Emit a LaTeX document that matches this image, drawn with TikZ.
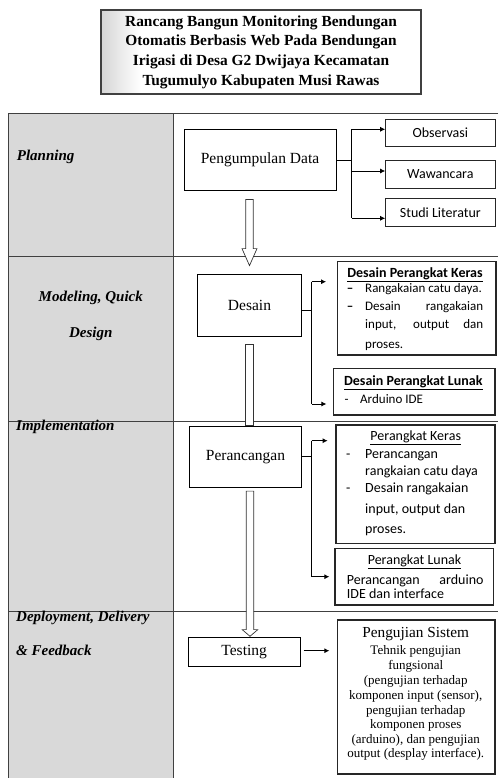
\documentclass[tikz,border=0pt]{standalone}
\usepackage{fontspec}
\setmainfont{Liberation Serif}
\newfontfamily\calfont{Carlito}
\usetikzlibrary{arrows.meta,calc}
\definecolor{lanegray}{HTML}{D9D9D9}
\newcommand\harrow[4]{%
  \draw[hollow] ($(#1)+(-3.7,0)$) -- ($(#1)+(3.7,0)$) -- ($(#2)+(3.7,-#3)$) -- ($(#2)+(#4,-#3)$) -- (#2) -- ($(#2)+(-#4,-#3)$) -- ($(#2)+(-3.7,-#3)$) -- cycle;}
\begin{document}
\begin{tikzpicture}[x=1pt,y=-1pt,
  tl/.style={draw=black!75, line width=1pt},
  lbl/.style={font=\fontsize{15}{18}\selectfont\bfseries\itshape, anchor=mid west, inner sep=0pt},
  stage/.style={draw=black, line width=0.8pt, fill=white, inner sep=0pt, font=\fontsize{15.5}{18}\selectfont},
  sbox/.style={draw=black!85, line width=1pt, fill=white, inner sep=0pt, font=\calfont\fontsize{14}{16}\selectfont},
  tbox/.style={draw=black!85, line width=1.3pt, fill=white, inner sep=0pt},
  hollow/.style={draw=black!80, line width=0.7pt, fill=white},
  conn/.style={draw=black, line width=0.8pt},
  arr/.style={conn, -{Latex[length=5pt,width=5pt]}},
  ttl/.style={font=\calfont\bfseries\fontsize{14}{16}\selectfont, inner sep=0pt, anchor=mid},
  tul/.style={font=\calfont\fontsize{14}{16}\selectfont, inner sep=0pt, anchor=mid},
  tsm/.style={font=\calfont\fontsize{13}{15}\selectfont, inner sep=0pt, anchor=mid west},
  tmd/.style={font=\calfont\fontsize{14}{16}\selectfont, inner sep=0pt, anchor=mid west},
  pst/.style={font=\fontsize{13}{15}\selectfont, inner sep=0pt, anchor=mid},
]
\useasboundingbox (0,0) rectangle (498,778);
% title
\shade[left color=black!16, right color=white] (101,10) rectangle (141,94);
\node[draw=black!75, line width=1.2pt, minimum width=320pt, minimum height=84pt, inner sep=0pt, align=center,
  font=\fontsize{15.4}{19.7}\selectfont\bfseries]
  (title) at (261,52) {Rancang Bangun Monitoring Bendungan\\Otomatis Berbasis Web Pada Bendungan\\Irigasi di Desa G2 Dwijaya Kecamatan\\Tugumulyo Kabupaten Musi Rawas};
% table
\fill[lanegray] (8,114) rectangle (173,778);
\draw[tl] (498,114) -- (8,114) -- (8,778);
\draw[tl] (173,114) -- (173,778);
\foreach \yy in {256,421,611} {\draw[tl] (8,\yy) -- (498,\yy);}
% lane labels
\node[lbl] (lplan) at (16.7,158.3) {Planning};
\node[lbl, anchor=mid] (lmod1) at (90.8,299.3) {Modeling, Quick};
\node[lbl, anchor=mid] (lmod2) at (90.8,335) {Design};
\node[lbl] (limp) at (16,428.3) {Implementation};
\node[lbl] (ldep1) at (16,619.3) {Deployment, Delivery};
\node[lbl] (ldep2) at (16,653.3) {\& Feedback};
% boxes
\node[stage, minimum width=152pt, minimum height=61.4pt] (pd) at (260,160) {Pengumpulan Data};
\node[sbox, minimum width=109.3pt, minimum height=27.4pt] (obs) at (440.35,133) {Observasi};
\node[sbox, minimum width=109.3pt, minimum height=27.6pt] (waw) at (440.35,174.5) {Wawancara};
\node[sbox, minimum width=109.3pt, minimum height=28.4pt] (stu) at (440.35,212.5) {Studi Literatur};
\node[stage, minimum width=104.4pt, minimum height=61.5pt] (des) at (249.5,305.25) {Desain};
\node[tbox, minimum width=158.7pt, minimum height=93.3pt] (dpk) at (416.65,308.35) {};
\node[tbox, minimum width=161.7pt, minimum height=46.7pt] (dpl) at (414.15,391.65) {};
\node[stage, minimum width=112.4pt, minimum height=61.3pt] (per) at (245.5,456.65) {Perancangan};
\node[tbox, minimum width=159pt, minimum height=118.3pt] (pk) at (415.5,484.15) {};
\node[tbox, minimum width=158.3pt, minimum height=56.7pt] (pl) at (414.15,576.65) {};
\node[stage, minimum width=111.7pt, minimum height=29pt] (test) at (244.15,652.2) {Testing};
\node[tbox, minimum width=157.7pt, minimum height=154pt] (ps) at (416.15,697) {};
% hollow arrows
\coordinate (a1s) at ($(des.north |- pd.south)+(0,8.3)$);
\coordinate (a1e) at ($(des.north)+(0,-8.5)$);
\harrow{a1s}{a1e}{17}{7.5}
\draw[hollow] ($(des.south)+(-3.7,8)$) rectangle ($(des.south |- per.north)+(3.7,0)$);
\coordinate (a3s) at ($(des.south |- per.south)+(0.5,3.4)$);
\coordinate (a3e) at ($(des.south |- test.north)+(0.5,-1)$);
\harrow{a3s}{a3e}{6.7}{7.8}
% branches
\coordinate (b1t) at (351.7,129.3);
\coordinate (b1m) at (351.7,171);
\coordinate (b1b) at (351.7,218.3);
\draw[conn] (pd.east) -- (pd.east -| b1t);
\draw[conn] (b1t) -- (b1b);
\draw[arr] (b1t) -- (b1t -| obs.west);
\draw[arr] (b1m) -- (b1m -| waw.west);
\draw[arr] (b1b) -- (b1b -| stu.west);
\coordinate (b2j) at (311.7,310);
\coordinate (b2t) at (311.7,281.7);
\coordinate (b2b) at (311.7,404);
\draw[conn] (b2j -| des.east) -- (b2j);
\draw[conn] (b2t) -- (b2b);
\draw[arr] (b2t) -- ($(b2t -| dpk.west)+(-10.6,0)$);
\draw[arr] (b2b) -- ($(b2b -| dpl.west)+(-6.3,0)$);
\coordinate (b3t) at (311.7,440.7);
\coordinate (b3b) at (311.7,576.7);
\draw[conn] (per.east) -- (per.east -| b3t);
\draw[conn] (b3t) -- (b3b);
\draw[arr] (b3t) -- ($(b3t -| pk.west)+(-7.7,0)$);
\draw[arr] (b3b) -- ($(b3b -| pl.west)+(-5,0)$);
\draw[arr] ($(test.east)+(3.3,-1.5)$) -- ($(test.east -| ps.west)+(-7.3,-1.5)$);
% DPK text
\node[ttl] (dpkt) at (415,275) {\underline{Desain Perangkat Keras}};
\node[tsm, anchor=mid] (dpkd1) at (350,290) {\textbf{–}};
\node[tsm] (dpk1) at (365,290) {Rangakaian catu daya.};
\node[tsm, anchor=mid] (dpkd2) at (350,308.3) {\textbf{–}};
\node[tsm] (dpk2) at (365,308.3) {\makebox[118pt][s]{Desain rangakaian}};
\node[tsm] (dpk3) at (365,326.7) {\makebox[118pt][s]{input, output dan}};
\node[tsm] (dpk4) at (365,346.7) {proses.};
% DPL text
\node[ttl] (dplt) at (413.3,383.3) {\underline{Desain Perangkat Lunak}};
\node[tsm, anchor=mid] (dpld) at (346.7,401.7) {-};
\node[tsm] (dpl1) at (360,401.7) {Arduino IDE};
% PK text
\node[tul] (pkt) at (415.7,438.3) {\underline{Perangkat Keras}};
\node[tmd, anchor=mid] (pkd1) at (348.3,456) {-};
\node[tmd] (pk1) at (365,456) {Perancangan};
\node[tmd] (pk2) at (365,473.3) {rangkaian catu daya};
\node[tmd, anchor=mid] (pkd2) at (348.3,490.7) {-};
\node[tmd] (pk3) at (365,490.7) {Desain rangakaian};
\node[tmd] (pk4) at (365,511) {input, output dan};
\node[tmd] (pk5) at (365,530.7) {proses.};
% PL text
\node[tul] (plt) at (414.5,562.3) {\underline{Perangkat Lunak}};
\node[tmd] (pl1) at (346.7,581.7) {\makebox[136.6pt][s]{Perancangan arduino}};
\node[tmd] (pl2) at (346.7,596) {IDE dan interface};
% PS text
\node[pst, font=\fontsize{15.3}{18}\selectfont] (ps0) at (415.7,635) {Pengujian Sistem};
\foreach \i/\yy/\tx in {1/651.7/Tehnik pengujian, 2/666.7/fungsional, 3/681.7/(pengujian terhadap, 4/696.7/{komponen input (sensor),}, 5/711.7/pengujian terhadap, 6/726/komponen proses, 7/740.7/{(arduino), dan pengujian}, 8/755/output (desplay interface).}
  {\node[pst] (ps\i) at (415.7,\yy) {\tx};}
\end{tikzpicture}
\end{document}
